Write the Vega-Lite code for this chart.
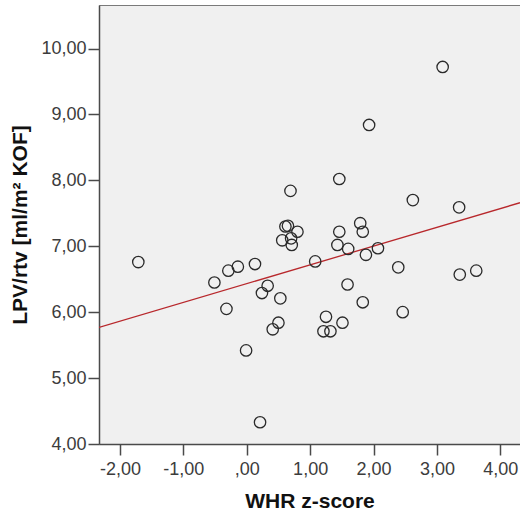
{
  "$schema": "https://vega.github.io/schema/vega-lite/v6.json",
  "autosize": {"type": "none"},
  "padding": {"left": 99, "top": 5, "right": 0, "bottom": 71},
  "width": 421,
  "height": 439,
  "background": "white",
  "config": {
    "view": {"fill": "#f0f0f0", "stroke": "#7a7a7a", "strokeWidth": 1},
    "axis": {
      "grid": false,
      "domainColor": "#4a4a4a",
      "domainWidth": 1.5,
      "tickColor": "#4a4a4a",
      "tickWidth": 1.5,
      "tickSize": 11,
      "labelFont": "Liberation Sans",
      "labelFontSize": 18,
      "labelColor": "#3c3c3c",
      "titleFont": "Liberation Sans",
      "titleFontSize": 21,
      "titleFontWeight": "bold",
      "titleColor": "#111111"
    }
  },
  "datasets": {
    "pts": [
      {"whr": -1.71, "lpv": 6.76},
      {"whr": -0.51, "lpv": 6.45},
      {"whr": -0.29, "lpv": 6.63},
      {"whr": -0.14, "lpv": 6.69},
      {"whr": -0.32, "lpv": 6.05},
      {"whr": -0.01, "lpv": 5.42},
      {"whr": 0.13, "lpv": 6.73},
      {"whr": 0.33, "lpv": 6.40},
      {"whr": 0.24, "lpv": 6.29},
      {"whr": 0.53, "lpv": 6.21},
      {"whr": 0.50, "lpv": 5.84},
      {"whr": 0.41, "lpv": 5.74},
      {"whr": 0.21, "lpv": 4.33},
      {"whr": 0.69, "lpv": 7.84},
      {"whr": 0.61, "lpv": 7.30},
      {"whr": 0.65, "lpv": 7.31},
      {"whr": 0.80, "lpv": 7.22},
      {"whr": 0.56, "lpv": 7.09},
      {"whr": 0.70, "lpv": 7.12},
      {"whr": 0.71, "lpv": 7.02},
      {"whr": 1.46, "lpv": 8.02},
      {"whr": 2.62, "lpv": 7.70},
      {"whr": 1.79, "lpv": 7.35},
      {"whr": 1.83, "lpv": 7.22},
      {"whr": 1.46, "lpv": 7.22},
      {"whr": 1.43, "lpv": 7.02},
      {"whr": 1.60, "lpv": 6.96},
      {"whr": 2.07, "lpv": 6.97},
      {"whr": 1.88, "lpv": 6.87},
      {"whr": 1.08, "lpv": 6.77},
      {"whr": 2.39, "lpv": 6.68},
      {"whr": 1.59, "lpv": 6.42},
      {"whr": 1.83, "lpv": 6.15},
      {"whr": 2.46, "lpv": 6.00},
      {"whr": 1.25, "lpv": 5.93},
      {"whr": 1.51, "lpv": 5.84},
      {"whr": 1.21, "lpv": 5.71},
      {"whr": 1.32, "lpv": 5.71},
      {"whr": 3.35, "lpv": 7.59},
      {"whr": 3.36, "lpv": 6.57},
      {"whr": 3.62, "lpv": 6.63},
      {"whr": 3.09, "lpv": 9.72},
      {"whr": 1.93, "lpv": 8.84}
    ],
    "fit": [
      {"whr": -2.33, "lpv": 5.77},
      {"whr": 4.31, "lpv": 7.66}
    ]
  },
  "layer": [
    {
      "data": {"name": "fit"},
      "mark": {"type": "line", "color": "#b8282c", "strokeWidth": 1.3, "clip": true},
      "encoding": {
        "x": {"field": "whr", "type": "quantitative"},
        "y": {"field": "lpv", "type": "quantitative"}
      }
    },
    {
      "data": {"name": "pts"},
      "mark": {"type": "point", "shape": "circle", "filled": false, "size": 130, "stroke": "#2a2a2a", "strokeWidth": 1.3, "opacity": 1},
      "encoding": {
        "x": {
          "field": "whr", "type": "quantitative",
          "scale": {"domain": [-2.33, 4.31], "nice": false, "zero": false},
          "axis": {
            "title": "WHR z-score",
            "values": [-2, -1, 0, 1, 2, 3, 4],
            "labelExpr": "datum.value == 0 ? ',00' : replace(replace(format(datum.value, '.2f'), '.', ','), '\u2212', '-')",
            "labelPadding": 5,
            "titlePadding": 12
          }
        },
        "y": {
          "field": "lpv", "type": "quantitative",
          "scale": {"domain": [4, 10.66], "nice": false, "zero": false},
          "axis": {
            "title": "LPV/rtv [ml/m² KOF]",
            "values": [4, 5, 6, 7, 8, 9, 10],
            "labelExpr": "replace(format(datum.value, '.2f'), '.', ',')",
            "labelPadding": 2,
            "titlePadding": 10
          }
        }
      }
    }
  ]
}
